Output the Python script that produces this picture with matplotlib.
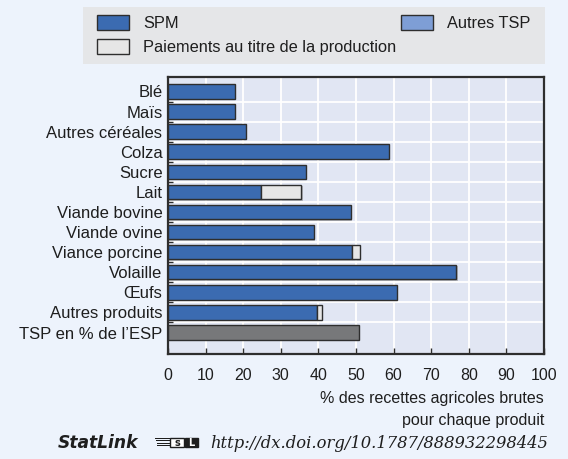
import numpy as np
import matplotlib
matplotlib.use("Agg")
import matplotlib.pyplot as plt
from matplotlib.patches import Rectangle, Patch
import matplotlib.patheffects as pe

plt.rcParams['font.family'] = ['Liberation Sans', 'DejaVu Sans']

categories = ["Blé", "Maïs", "Autres céréales", "Colza", "Sucre", "Lait",
              "Viande bovine", "Viande ovine", "Viance porcine", "Volaille",
              "Œufs", "Autres produits", "TSP en % de l’ESP"]
spm = [17.7, 17.7, 20.7, 58.8, 36.7, 24.7, 48.6, 38.7, 49.0, 76.7, 60.9, 39.7, 0]
paiements = [0, 0, 0, 0, 0, 10.8, 0, 0, 2.0, 0, 0, 1.2, 0]
autres_tsp = [0] * 13
tsp_pct = [0] * 12 + [50.7]
xticks = list(range(0, 101, 10))

BG = "#EDF3FC"
AX_BG = "#E1E6F3"
C_SPM = "#3B6BB1"
C_PAY = "#E6E6E6"
C_TSP = "#77787A"
C_ATSP = "#7E9ED6"
EDGE = "#2E2E2E"
TXT = "#1E1E1E"

fig = plt.figure(figsize=(5.68, 4.59), dpi=100, facecolor=BG)
ax = fig.add_axes([168/568, 1-354/459, 376/568, 277/459])
ax.set_facecolor(AX_BG)

y = np.arange(len(categories))
h = 0.72
shadow = [pe.SimplePatchShadow(offset=(1, -1), shadow_rgbFace="#888888", alpha=0.5), pe.Normal()]
left = np.zeros(len(categories))
for vals, col in [(spm, C_SPM), (paiements, C_PAY), (autres_tsp, C_ATSP), (tsp_pct, C_TSP)]:
    vals = np.array(vals, dtype=float)
    mask = vals > 0
    bars = ax.barh(y[mask], vals[mask], left=left[mask], height=h, color=col,
                   edgecolor=EDGE, linewidth=1.0, zorder=3)
    for b in bars:
        b.set_path_effects(shadow)
    left = left + vals

ax.set_xlim(0, 100)
ax.set_ylim(13.07, -0.72)
ax.set_xticks(xticks)
ax.set_xticklabels([str(t) for t in xticks], fontsize=11.5, color=TXT)
ax.set_yticks(y)
ax.set_yticklabels(categories, fontsize=12, color=TXT)
ax.set_yticks(np.arange(len(categories) - 1) + 0.5, minor=True)
ax.tick_params(axis='y', which='major', length=0, pad=4)
ax.tick_params(axis='y', which='minor', direction='in', length=3.5, width=1.0, color=EDGE)
ax.tick_params(axis='x', which='major', direction='in', length=4.5, width=1.0, color=EDGE, pad=10)
ax.grid(True, axis='x', which='major', color='white', linewidth=1.3, zorder=1)
ax.grid(True, axis='y', which='minor', color='white', linewidth=1.3, zorder=1)
ax.set_axisbelow(True)
for s in ax.spines.values():
    s.set_color(EDGE)
    s.set_linewidth(1.6)

fig.text(544/568, 1-399/459, "% des recettes agricoles brutes", ha='right', va='center',
         fontsize=11.5, color=TXT)
fig.text(544/568, 1-420/459, "pour chaque produit", ha='right', va='center',
         fontsize=11.5, color=TXT)

# legend
fig.patches.append(Rectangle((83/568, 1-64/459), 462/568, 57/459, transform=fig.transFigure,
                             facecolor="#E5E6E8", edgecolor='none', zorder=0))
handles = [Patch(facecolor=C_SPM, edgecolor=EDGE, linewidth=1.0),
           Patch(facecolor=C_PAY, edgecolor=EDGE, linewidth=1.0),
           Patch(facecolor=C_ATSP, edgecolor=EDGE, linewidth=1.0),
           Patch(facecolor='none', edgecolor='none')]
labels = ["SPM", "Paiements au titre de la production", "Autres TSP", ""]
leg = fig.legend(handles, labels, ncol=2, mode='expand',
                 bbox_to_anchor=(97/568, 1-60/459, 433/568, 50/459), loc='center',
                 frameon=False, fontsize=11.8, handlelength=1.95, handleheight=1.0,
                 handletextpad=0.85, labelspacing=0.5, borderpad=0, borderaxespad=0,
                 columnspacing=0.3)
for t in leg.get_texts():
    t.set_color(TXT)

# StatLink footer
fig.text(58/568, 1-443/459, "StatLink", fontsize=12.3, style='italic', weight='bold',
         family='DejaVu Sans', color=TXT, va='center', ha='left')
W, H = 568.0, 459.0
for i in range(4):
    yy = 438 + i * 2.3
    fig.patches.append(Rectangle(((155 + i * 0.8) / W, 1 - (yy + 1) / H), (15 - i * 0.8) / W, 1.1 / H,
                                 transform=fig.transFigure, facecolor=TXT, edgecolor='none'))
fig.patches.append(Rectangle((170 / W, 1 - 447 / H), 14 / W, 9 / H, transform=fig.transFigure,
                             facecolor='white', edgecolor=TXT, linewidth=1.0))
fig.text(177 / W, 1 - 442.5 / H, "s", fontsize=7, weight='bold', family='DejaVu Sans',
         color=TXT, ha='center', va='center')
fig.patches.append(Rectangle((185 / W, 1 - 447 / H), 13 / W, 9 / H, transform=fig.transFigure,
                             facecolor=TXT, edgecolor=TXT, linewidth=1.0))
fig.text(191 / W, 1 - 442.5 / H, "L", fontsize=7, weight='bold', family='DejaVu Sans',
         color='white', ha='center', va='center')
fig.text(548 / W, 1 - 443 / H, "http://dx.doi.org/10.1787/888932298445", fontsize=11.8,
         style='italic', family='DejaVu Serif', color=TXT, va='center', ha='right')

fig.savefig("out.png", dpi=100, facecolor=BG)
